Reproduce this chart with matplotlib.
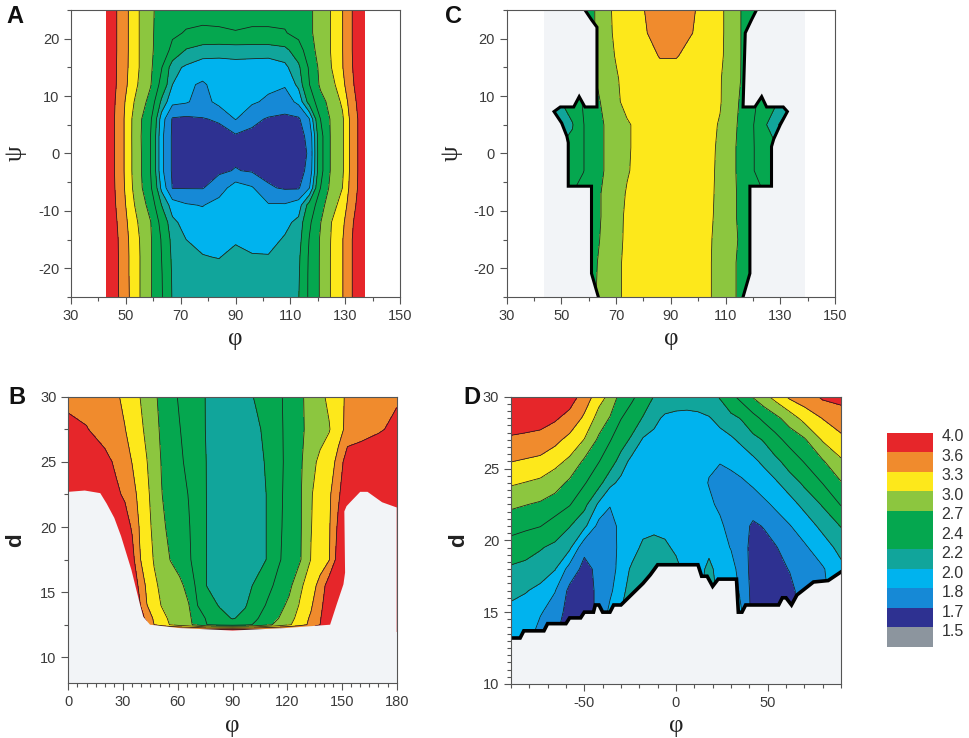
import matplotlib
matplotlib.use("Agg")
import matplotlib.pyplot as plt
import numpy as np
from matplotlib.ticker import MultipleLocator, FixedLocator
from matplotlib.patches import Polygon

plt.rcParams['font.family'] = ['Liberation Sans', 'DejaVu Sans']
plt.rcParams['axes.unicode_minus'] = False

# shared colour scale
level_edges = [1.5, 1.7, 1.8, 2.0, 2.2, 2.4, 2.7, 3.0, 3.3, 3.6, 4.0, 4.6]
band_colors = ['#8c959e', '#2e3191', '#1689d6', '#00b3ee', '#11a59b', '#05a74f',
               '#05a74f', '#8cc63f', '#fde81b', '#f08b2d', '#e6262a']
legend_labels = ['1.5', '1.7', '1.8', '2.0', '2.2', '2.4', '2.7', '3.0', '3.3', '3.6', '4.0']
bg = '#f2f4f7'

# ---- panel A : phi vs psi ----
a_phi = [43, 47, 51, 55, 59, 63, 67, 72, 78, 84, 90, 96, 102, 108, 113, 117, 121, 125, 129, 133, 137]
a_psi = [25, 21, 18, 15, 12, 9, 6, 3, 0, -3, -6, -9, -12, -15, -18, -21, -25]
a_val = [
    [4.35, 3.97, 3.59, 3.29, 3.04, 2.92, 2.85, 2.80, 2.78, 2.78, 2.78, 2.78, 2.78, 2.80, 2.88, 2.96, 3.10, 3.32, 3.59, 4.05, 4.40],
    [4.35, 3.97, 3.59, 3.29, 3.04, 2.90, 2.75, 2.68, 2.66, 2.67, 2.69, 2.67, 2.67, 2.68, 2.80, 2.96, 3.10, 3.32, 3.59, 4.05, 4.40],
    [4.35, 3.97, 3.59, 3.29, 3.04, 2.88, 2.62, 2.38, 2.28, 2.26, 2.27, 2.27, 2.27, 2.33, 2.55, 2.90, 3.10, 3.32, 3.59, 4.05, 4.40],
    [4.35, 3.96, 3.58, 3.29, 3.05, 2.72, 2.26, 2.17, 2.12, 2.13, 2.14, 2.13, 2.12, 2.15, 2.35, 2.75, 3.08, 3.30, 3.58, 4.03, 4.40],
    [4.35, 3.95, 3.55, 3.25, 3.02, 2.60, 2.20, 2.04, 1.97, 2.09, 2.10, 2.09, 2.05, 2.02, 2.25, 2.70, 3.05, 3.20, 3.50, 3.98, 4.38],
    [4.33, 3.90, 3.45, 3.15, 2.90, 2.35, 2.05, 2.02, 1.92, 2.06, 2.07, 2.03, 1.96, 1.90, 2.05, 2.50, 2.90, 3.10, 3.35, 3.88, 4.35],
    [4.30, 3.88, 3.40, 3.06, 2.75, 2.10, 1.78, 1.76, 1.79, 1.82, 2.01, 1.85, 1.78, 1.76, 1.77, 2.00, 2.70, 3.05, 3.25, 3.80, 4.30],
    [4.30, 3.88, 3.40, 3.05, 2.70, 2.05, 1.77, 1.74, 1.73, 1.74, 1.77, 1.75, 1.74, 1.73, 1.74, 1.85, 2.60, 3.05, 3.25, 3.80, 4.30],
    [4.30, 3.88, 3.40, 3.06, 2.70, 2.05, 1.77, 1.74, 1.73, 1.74, 1.76, 1.74, 1.73, 1.73, 1.74, 1.82, 2.60, 3.05, 3.25, 3.80, 4.30],
    [4.30, 3.88, 3.40, 3.06, 2.70, 2.05, 1.77, 1.74, 1.74, 1.77, 1.81, 1.78, 1.75, 1.74, 1.74, 1.85, 2.60, 3.05, 3.25, 3.80, 4.30],
    [4.30, 3.90, 3.42, 3.08, 2.75, 2.15, 1.79, 1.79, 1.79, 1.90, 2.10, 2.02, 1.82, 1.78, 1.78, 2.00, 2.70, 3.10, 3.30, 3.82, 4.30],
    [4.33, 3.93, 3.48, 3.15, 2.90, 2.40, 2.10, 2.02, 1.99, 2.08, 2.12, 2.10, 2.02, 2.02, 2.10, 2.50, 2.88, 3.20, 3.40, 3.90, 4.35],
    [4.35, 3.98, 3.55, 3.25, 3.01, 2.60, 2.25, 2.12, 2.10, 2.12, 2.13, 2.12, 2.10, 2.15, 2.25, 2.65, 2.99, 3.30, 3.52, 4.00, 4.38],
    [4.35, 4.02, 3.60, 3.30, 3.03, 2.68, 2.32, 2.20, 2.14, 2.15, 2.17, 2.16, 2.14, 2.22, 2.30, 2.72, 3.03, 3.32, 3.58, 4.05, 4.40],
    [4.35, 4.03, 3.61, 3.31, 3.03, 2.70, 2.35, 2.27, 2.21, 2.19, 2.27, 2.21, 2.21, 2.30, 2.35, 2.75, 3.03, 3.33, 3.58, 4.05, 4.40],
    [4.35, 4.03, 3.61, 3.31, 3.03, 2.72, 2.37, 2.30, 2.30, 2.28, 2.30, 2.28, 2.30, 2.32, 2.37, 2.76, 3.03, 3.33, 3.58, 4.05, 4.40],
    [4.35, 4.04, 3.62, 3.31, 3.03, 2.73, 2.38, 2.32, 2.31, 2.30, 2.30, 2.30, 2.31, 2.33, 2.39, 2.76, 3.03, 3.33, 3.58, 4.05, 4.40],
]
a_xticks = [30, 50, 70, 90, 110, 130, 150]

# ---- panel C : phi vs psi, data only inside the outlined region ----
c_phi = [46, 50, 54, 58, 62, 66, 70, 74, 80, 86, 92, 98, 104, 108, 112, 116, 120, 124, 128, 132]
c_psi = [25, 21, 17, 13, 9, 5, 1, -3, -7, -11, -15, -19, -25]
c_val = [
    [2.50, 2.60, 2.70, 2.85, 2.99, 3.19, 3.38, 3.45, 3.59, 3.75, 3.72, 3.63, 3.45, 3.36, 3.18, 2.98, 2.80, 2.70, 2.60, 2.50],
    [2.50, 2.60, 2.70, 2.85, 2.99, 3.19, 3.36, 3.45, 3.57, 3.70, 3.68, 3.60, 3.45, 3.36, 3.18, 2.98, 2.80, 2.70, 2.60, 2.50],
    [2.50, 2.60, 2.70, 2.85, 2.98, 3.18, 3.32, 3.45, 3.52, 3.61, 3.61, 3.54, 3.45, 3.35, 3.18, 2.98, 2.80, 2.70, 2.60, 2.50],
    [2.50, 2.60, 2.70, 2.85, 2.98, 3.12, 3.27, 3.40, 3.48, 3.52, 3.52, 3.48, 3.42, 3.32, 3.15, 2.98, 2.80, 2.70, 2.60, 2.50],
    [2.30, 2.40, 2.55, 2.72, 2.90, 3.08, 3.25, 3.38, 3.47, 3.50, 3.50, 3.48, 3.42, 3.32, 3.12, 2.95, 2.75, 2.60, 2.45, 2.30],
    [2.21, 2.25, 2.38, 2.69, 2.85, 3.02, 3.15, 3.27, 3.40, 3.45, 3.45, 3.42, 3.36, 3.28, 3.10, 2.92, 2.72, 2.45, 2.25, 2.10],
    [2.40, 2.42, 2.48, 2.69, 2.85, 3.02, 3.15, 3.27, 3.40, 3.45, 3.45, 3.42, 3.34, 3.27, 3.08, 2.90, 2.72, 2.55, 2.45, 2.35],
    [2.40, 2.45, 2.50, 2.69, 2.85, 3.02, 3.16, 3.28, 3.40, 3.45, 3.45, 3.42, 3.34, 3.26, 3.08, 2.90, 2.72, 2.55, 2.45, 2.40],
    [2.60, 2.65, 2.70, 2.80, 2.92, 3.05, 3.20, 3.32, 3.42, 3.46, 3.46, 3.42, 3.34, 3.25, 3.08, 2.92, 2.80, 2.70, 2.60, 2.55],
    [2.60, 2.65, 2.70, 2.80, 2.92, 3.05, 3.22, 3.34, 3.42, 3.46, 3.46, 3.42, 3.33, 3.25, 3.08, 2.92, 2.80, 2.70, 2.60, 2.55],
    [2.60, 2.65, 2.70, 2.80, 2.93, 3.07, 3.22, 3.35, 3.42, 3.46, 3.46, 3.42, 3.32, 3.24, 3.08, 2.95, 2.80, 2.70, 2.60, 2.55],
    [2.60, 2.65, 2.70, 2.82, 2.96, 3.10, 3.24, 3.36, 3.42, 3.46, 3.46, 3.42, 3.32, 3.22, 3.06, 2.93, 2.80, 2.70, 2.60, 2.55],
    [2.60, 2.65, 2.72, 2.85, 2.98, 3.10, 3.24, 3.36, 3.42, 3.46, 3.46, 3.42, 3.32, 3.22, 3.06, 2.93, 2.80, 2.70, 2.60, 2.55],
]
c_left_phi = [58.6, 61.0, 63.0, 63.0, 58.6, 56.5, 54.5, 49.6, 47.3, 50.1, 52.0, 52.5, 52.5, 61.0, 61.0, 63.5]
c_left_psi = [25.0, 23.3, 22.0, 8.1, 8.1, 9.9, 8.1, 8.1, 7.3, 5.3, 3.0, 1.9, -5.7, -5.7, -20.9, -25.0]
c_right_phi = [121.3, 119.5, 117.2, 116.4, 120.7, 123.2, 125.0, 131.1, 132.6, 130.0, 127.6, 126.8, 126.8, 118.9, 118.9, 116.4]
c_right_psi = [25.0, 23.3, 21.0, 8.1, 8.1, 9.9, 8.1, 8.1, 7.3, 5.0, 2.5, 1.2, -5.7, -5.7, -20.9, -25.0]
c_grid_range = [43.7, 139.0]

# ---- panel B : phi vs d ----
b_phi = [0, 10, 20, 26, 31, 35, 39, 43, 47, 51, 56, 61, 66, 71, 76, 83, 90, 97, 103, 109, 115, 121,
         127, 133, 138, 143, 148, 153, 160, 170, 180]
b_d = [30, 27.5, 25, 22.5, 20, 17.5, 15.5, 14, 13, 12.5, 12.0]
b_val = [
    [3.90, 3.85, 3.75, 3.65, 3.53, 3.42, 3.31, 3.18, 3.05, 2.93, 2.79, 2.67, 2.58, 2.48, 2.38, 2.30, 2.27, 2.32, 2.43, 2.54, 2.65, 2.78, 2.95, 3.10, 3.23, 3.36, 3.51, 3.65, 3.75, 3.85, 3.95],
    [4.10, 4.02, 3.83, 3.71, 3.61, 3.49, 3.37, 3.24, 3.09, 2.96, 2.84, 2.71, 2.60, 2.49, 2.38, 2.30, 2.26, 2.28, 2.35, 2.47, 2.63, 2.79, 2.95, 3.08, 3.18, 3.28, 3.52, 3.66, 3.78, 3.95, 4.10],
    [4.30, 4.25, 4.12, 3.94, 3.74, 3.59, 3.45, 3.31, 3.14, 2.99, 2.87, 2.75, 2.63, 2.51, 2.39, 2.30, 2.26, 2.27, 2.32, 2.43, 2.62, 2.79, 2.95, 3.20, 3.37, 3.49, 3.67, 4.30, 4.35, 4.35, 4.35],
    [4.40, 4.35, 4.20, 4.08, 3.94, 3.71, 3.52, 3.36, 3.19, 3.01, 2.90, 2.80, 2.69, 2.54, 2.39, 2.30, 2.26, 2.27, 2.30, 2.41, 2.63, 2.80, 2.96, 3.28, 3.41, 3.53, 3.94, 4.30, 4.35, 4.35, 4.30],
    [4.40, 4.40, 4.35, 4.30, 4.20, 3.95, 3.58, 3.40, 3.23, 3.06, 2.93, 2.82, 2.72, 2.56, 2.39, 2.30, 2.26, 2.27, 2.30, 2.41, 2.64, 2.81, 2.96, 3.29, 3.43, 3.56, 4.08, 4.30, 4.35, 4.35, 4.30],
    [4.40, 4.40, 4.40, 4.40, 4.35, 4.15, 3.63, 3.44, 3.28, 3.15, 2.99, 2.87, 2.74, 2.57, 2.39, 2.30, 2.26, 2.27, 2.30, 2.41, 2.66, 2.82, 2.97, 3.31, 3.45, 3.58, 4.20, 4.35, 4.35, 4.35, 4.30],
    [4.40, 4.40, 4.40, 4.40, 4.40, 4.30, 3.92, 3.52, 3.35, 3.25, 3.16, 3.07, 2.90, 2.61, 2.39, 2.30, 2.27, 2.33, 2.44, 2.61, 2.78, 2.92, 3.24, 3.47, 3.70, 4.25, 4.35, 4.35, 4.35, 4.35, 4.30],
    [4.40, 4.40, 4.40, 4.40, 4.40, 4.35, 4.05, 3.61, 3.44, 3.29, 3.20, 3.10, 3.01, 2.69, 2.56, 2.37, 2.32, 2.38, 2.55, 2.73, 2.88, 3.07, 3.33, 3.55, 3.88, 4.30, 4.35, 4.35, 4.35, 4.35, 4.30],
    [4.40, 4.40, 4.40, 4.40, 4.40, 4.40, 4.30, 3.85, 3.54, 3.39, 3.25, 3.15, 3.05, 2.86, 2.66, 2.52, 2.38, 2.47, 2.67, 2.83, 2.99, 3.19, 3.41, 3.65, 3.97, 4.30, 4.35, 4.35, 4.35, 4.35, 4.30],
    [4.40, 4.40, 4.40, 4.40, 4.40, 4.40, 4.35, 4.10, 3.60, 3.45, 3.28, 3.15, 3.06, 2.90, 2.70, 2.60, 2.55, 2.62, 2.75, 2.92, 3.09, 3.26, 3.46, 3.68, 4.00, 4.30, 4.35, 4.35, 4.35, 4.35, 4.30],
    [4.45] * 31,
]
b_edge_phi = [0, 9, 17.5, 21, 25.2, 28.9, 34.6, 39.2, 41.1, 44.8, 60, 90, 120, 143.5, 147.2, 150.8,
              151.7, 151.3, 152.5, 154.5, 160, 164, 168, 172, 176, 180]
b_edge_d = [22.7, 22.8, 22.6, 21.8, 20.7, 19.3, 16.7, 14.1, 13.1, 12.5, 12.25, 12.05, 12.25, 12.5, 14.1, 15.6,
            16.5, 21.2, 21.6, 21.9, 22.7, 22.7, 22.3, 21.9, 21.7, 21.5]

# ---- panel D : phi vs d (values listed column by column, d from 30 down to 13) ----
d_phi = [-90, -82, -74, -66, -58, -50, -42, -36, -30, -24, -18, -12, -6, 0, 6, 12, 18, 24, 30, 36, 42,
         48, 54, 62, 70, 80, 90]
d_d = [30, 28.5, 27, 25.5, 24, 22.5, 21, 19.5, 18, 16.5, 15, 13.5, 13]
d_cols = [
    [4.45, 4.27, 3.93, 3.61, 3.34, 3.06, 2.81, 2.57, 2.36, 2.25, 2.15, 2.10, 2.10],
    [4.45, 4.23, 3.89, 3.56, 3.29, 3.01, 2.76, 2.50, 2.33, 2.21, 2.13, 2.10, 2.10],
    [4.45, 4.19, 3.84, 3.51, 3.24, 2.96, 2.71, 2.42, 2.28, 2.16, 2.02, 1.92, 1.90],
    [4.45, 4.06, 3.69, 3.39, 3.13, 2.86, 2.57, 2.34, 2.21, 2.01, 1.90, 1.82, 1.80],
    [4.23, 3.84, 3.50, 3.24, 2.94, 2.72, 2.41, 2.24, 1.92, 1.75, 1.72, 1.72, 1.72],
    [3.80, 3.54, 3.29, 2.95, 2.73, 2.46, 2.25, 1.85, 1.74, 1.72, 1.72, 1.72, 1.72],
    [3.41, 3.18, 2.94, 2.71, 2.47, 2.16, 1.93, 1.88, 1.85, 1.84, 1.84, 1.84, 1.84],
    [3.23, 2.98, 2.72, 2.52, 2.25, 2.01, 1.93, 1.92, 1.92, 1.96, 2.05, 2.10, 2.10],
    [2.88, 2.71, 2.52, 2.30, 2.15, 2.10, 2.05, 2.05, 2.07, 2.13, 2.20, 2.25, 2.25],
    [2.75, 2.56, 2.35, 2.14, 2.10, 2.08, 2.06, 2.10, 2.24, 2.30, 2.32, 2.32, 2.32],
    [2.58, 2.38, 2.18, 2.12, 2.10, 2.08, 2.12, 2.25, 2.30, 2.32, 2.32, 2.32, 2.32],
    [2.39, 2.23, 2.17, 2.13, 2.11, 2.10, 2.15, 2.27, 2.30, 2.32, 2.32, 2.32, 2.32],
    [2.28, 2.18, 2.15, 2.12, 2.10, 2.08, 2.12, 2.25, 2.30, 2.30, 2.30, 2.30, 2.30],
    [2.26, 2.17, 2.14, 2.12, 2.10, 2.08, 2.08, 2.15, 2.28, 2.30, 2.30, 2.30, 2.30],
    [2.25, 2.17, 2.14, 2.12, 2.10, 2.08, 2.07, 2.08, 2.10, 2.10, 2.10, 2.10, 2.10],
    [2.27, 2.17, 2.13, 2.10, 2.08, 2.07, 2.06, 2.08, 2.12, 2.15, 2.15, 2.15, 2.15],
    [2.30, 2.19, 2.13, 2.03, 1.99, 2.04, 2.08, 2.15, 2.25, 2.28, 2.28, 2.28, 2.28],
    [2.42, 2.24, 2.15, 2.01, 1.93, 1.96, 2.04, 2.08, 2.12, 2.15, 2.15, 2.15, 2.15],
    [2.62, 2.33, 2.17, 2.05, 1.93, 1.90, 1.92, 1.99, 2.08, 2.12, 2.12, 2.12, 2.12],
    [2.81, 2.42, 2.24, 2.10, 1.97, 1.90, 1.87, 1.87, 1.90, 1.95, 2.00, 2.05, 2.05],
    [3.02, 2.60, 2.32, 2.16, 2.03, 1.89, 1.77, 1.74, 1.73, 1.73, 1.73, 1.73, 1.73],
    [3.20, 2.77, 2.42, 2.24, 2.10, 1.96, 1.81, 1.74, 1.72, 1.72, 1.72, 1.72, 1.72],
    [3.40, 2.91, 2.59, 2.33, 2.17, 2.03, 1.90, 1.78, 1.73, 1.72, 1.72, 1.72, 1.72],
    [3.66, 3.14, 2.81, 2.51, 2.29, 2.13, 1.99, 1.90, 1.81, 1.74, 1.73, 1.73, 1.73],
    [3.78, 3.40, 2.96, 2.72, 2.44, 2.25, 2.10, 1.97, 1.92, 1.90, 1.90, 1.90, 1.90],
    [4.07, 3.61, 3.33, 2.97, 2.71, 2.42, 2.25, 2.11, 1.98, 1.96, 1.96, 1.96, 1.96],
    [4.13, 3.80, 3.51, 3.26, 2.98, 2.72, 2.41, 2.26, 2.15, 2.12, 2.12, 2.12, 2.12],
]
d_edge_phi = [-90, -85, -83, -72, -70, -60, -58, -52, -50, -45, -44, -42, -40, -36, -34, -30, -26, -22,
              -18, -14, -10, 12, 14, 17, 20, 23, 26, 33, 34, 36, 38, 56, 58, 60, 63, 66, 75, 83, 90]
d_edge_d = [13.2, 13.2, 13.7, 13.7, 14.2, 14.2, 14.6, 14.6, 15.0, 15.0, 15.5, 15.5, 15.0, 15.0, 15.5, 15.5,
            16.0, 16.5, 17.0, 17.6, 18.3, 18.3, 17.5, 17.5, 16.8, 17.3, 17.3, 17.3, 15.0, 15.0, 15.5, 15.5,
            16.0, 16.0, 15.5, 16.2, 17.1, 17.2, 17.8]


def draw_map(ax, x, y, z, clip=None):
    cf = ax.contourf(x, y, z, levels=level_edges, colors=band_colors, zorder=1)
    cl = ax.contour(x, y, z, levels=level_edges[1:-1], colors='#1c1c1c', linewidths=0.55, zorder=2)
    if clip is not None:
        cf.set_clip_path(clip)
        cl.set_clip_path(clip)


def style(ax, xlim, ylim, xmaj, xmin, ymaj, ymin):
    ax.set_xlim(xlim)
    ax.set_ylim(ylim)
    ax.xaxis.set_major_locator(FixedLocator(xmaj))
    ax.xaxis.set_minor_locator(MultipleLocator(xmin))
    ax.yaxis.set_major_locator(MultipleLocator(ymaj))
    ax.yaxis.set_minor_locator(MultipleLocator(ymin))
    ax.tick_params(which='both', direction='out', color='#555555', width=0.8,
                   labelsize=10.5, labelcolor='#3a3a3a')
    ax.tick_params(which='major', length=5)
    ax.tick_params(which='minor', length=3)
    for s in ax.spines.values():
        s.set_color('#555555')
        s.set_linewidth(0.8)
        s.set_zorder(5)
    ax.set_xlabel('φ', fontsize=18, family='Liberation Serif', color='#222222', labelpad=4)


fig = plt.figure(figsize=(9.69, 7.38), dpi=100)

# A
axA = fig.add_axes([0.0733, 0.5976, 0.3395, 0.3889])
draw_map(axA, a_phi, a_psi, a_val)
style(axA, (30, 150), (-25, 25), a_xticks, 10, 10, 5)
axA.set_ylabel('ψ', fontsize=18, family='Liberation Serif', color='#222222', labelpad=8)

# C
axC = fig.add_axes([0.5229, 0.5976, 0.3388, 0.3889])
axC.axvspan(c_grid_range[0], c_grid_range[1], color=bg, zorder=0, lw=0)
c_poly = list(zip(c_left_phi, c_left_psi)) + list(zip(c_right_phi[::-1], c_right_psi[::-1]))
c_patch = Polygon(c_poly, closed=True, transform=axC.transData, facecolor='none', edgecolor='none')
axC.add_patch(c_patch)
draw_map(axC, c_phi, c_psi, c_val, clip=c_patch)
axC.plot(c_left_phi, c_left_psi, color='black', lw=2.2, zorder=2.4, solid_joinstyle='miter')
axC.plot(c_right_phi, c_right_psi, color='black', lw=2.2, zorder=2.4, solid_joinstyle='miter')
style(axC, (30, 150), (-25, 25), a_xticks, 10, 10, 5)
axC.set_ylabel('ψ', fontsize=18, family='Liberation Serif', color='#222222', labelpad=8)

# B
axB = fig.add_axes([0.0705, 0.0741, 0.3389, 0.3883])
axB.set_facecolor(bg)
draw_map(axB, b_phi, b_d, b_val)
b_xlim = (0, 180)
b_ylim = (8, 30)
axB.fill(b_edge_phi + [b_xlim[1], b_xlim[0]], b_edge_d + [b_ylim[0], b_ylim[0]],
         color=bg, lw=0, zorder=2.3)
style(axB, b_xlim, b_ylim, [0, 30, 60, 90, 120, 150, 180], 5, 5, 2.5)
axB.set_ylabel('d', fontsize=16, fontweight='bold', color='#222222', labelpad=10)

# D
axD = fig.add_axes([0.5273, 0.0732, 0.3406, 0.3893])
axD.set_facecolor(bg)
draw_map(axD, d_phi, d_d, np.array(d_cols).T)
d_ylim = (10, 30)
axD.fill_between(d_edge_phi, d_ylim[0], d_edge_d, color=bg, lw=0, zorder=2.3)
axD.plot(d_edge_phi, d_edge_d, color='black', lw=2.6, zorder=2.4, solid_joinstyle='miter')
style(axD, (-90, 90), d_ylim, [-50, 0, 50], 10, 5, 0.5)
axD.set_ylabel('d', fontsize=16, fontweight='bold', color='#222222', labelpad=10)

# panel letters
for letter, x, y in [('A', 0.0155, 0.977), ('C', 0.4675, 0.977), ('B', 0.0175, 0.462), ('D', 0.487, 0.462)]:
    fig.text(x, y, letter, fontsize=17, fontweight='bold', ha='center', va='center', color='#111111')

# colour key
axL = fig.add_axes([0.915, 0.1237, 0.0481, 0.29])
for i, (lab, col) in enumerate(zip(legend_labels, band_colors)):
    axL.bar(0, 1, bottom=i, width=1, color=col, lw=0)
    axL.text(0.68, i + 0.78, lab, fontsize=11.5, color='#333333', va='center', ha='left',
             transform=axL.transData, clip_on=False)
axL.set_xlim(-0.5, 0.5)
axL.set_ylim(0, len(legend_labels))
axL.axis('off')

fig.savefig('out.png', dpi=100)
